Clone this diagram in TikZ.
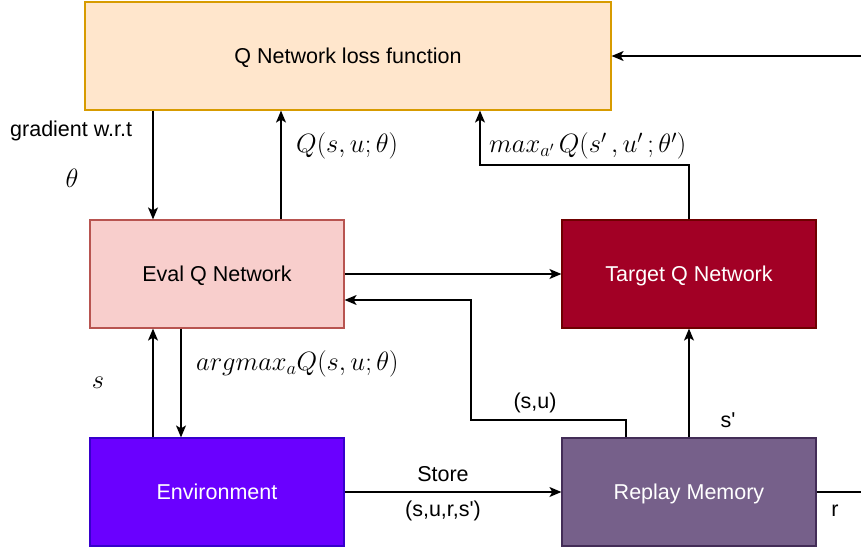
\RequirePackage{fix-cm}
\documentclass[tikz,border=0pt]{standalone}
\usepackage{fontspec}
\setmainfont{Liberation Sans}[Ligatures=TeXOff]
\usetikzlibrary{arrows.meta,calc}
\definecolor{lossfill}{HTML}{FFE6CC}\definecolor{lossdraw}{HTML}{D79B00}
\definecolor{evalfill}{HTML}{F8CECC}\definecolor{evaldraw}{HTML}{B85450}
\definecolor{tgtfill}{HTML}{A20025}\definecolor{tgtdraw}{HTML}{6F0000}
\definecolor{envfill}{HTML}{6A00FF}\definecolor{envdraw}{HTML}{3700CC}
\definecolor{repfill}{HTML}{76608A}\definecolor{repdraw}{HTML}{432D57}
\begin{document}
\begin{tikzpicture}[x=1pt,y=-1pt,
  box/.style={draw,line width=1.2pt,minimum width=254pt,minimum height=108pt,inner sep=0pt,text depth=0pt,font=\fontsize{21.5}{24}\selectfont},
  conn/.style={line width=1.3pt,-{Stealth[length=12pt,width=10pt,inset=3pt]}},
  plain/.style={line width=1.3pt},
  lbl/.style={font=\fontsize{21.5}{24}\selectfont,inner sep=0pt},
  mlbl/.style={font=\fontsize{26.5}{30}\selectfont,inner sep=0pt}]
\useasboundingbox (0,0) rectangle (861,548);
\node[box,fill=lossfill,draw=lossdraw,minimum width=526pt] (loss) at (348,56) {Q Network loss function};
\node[box,fill=evalfill,draw=evaldraw] (eval) at (217,274) {Eval Q Network};
\node[box,fill=tgtfill,draw=tgtdraw,text=white] (tgt) at (689,274) {Target Q Network};
\node[box,fill=envfill,draw=envdraw,text=white] (env) at (217,492) {Environment};
\node[box,fill=repfill,draw=repdraw,text=white] (rep) at (689,492) {Replay Memory};
\coordinate (gx) at (153,0);
\coordinate (qx) at (281,0);
\coordinate (ax) at (181,0);
\coordinate (mx) at (480,165);
\coordinate (sux) at (626,420);
\coordinate (suy) at (471,300);
\coordinate (redge) at (861,56);
\coordinate (rend) at (861,492);
% connectors
\draw[conn] (loss.south -| gx) -- (eval.north -| gx);
\draw[conn] (eval.north -| qx) -- (loss.south -| qx);
\draw[conn] (tgt.north) |- (mx) -- (loss.south -| mx);
\draw[conn] (eval.east) -- (tgt.west);
\draw[conn] (rep.north -| sux) -- (sux) -| (suy) -- (eval.east |- suy);
\draw[conn] (rep.north) -- (tgt.south);
\draw[conn] (env.north -| gx) -- (eval.south -| gx);
\draw[conn] (eval.south -| ax) -- (env.north -| ax);
\draw[conn] (env.east) -- (rep.west);
\draw[plain] (rep.east) -- (rend);
\draw[conn] (redge) -- (loss.east |- redge);
% labels
\node[lbl,anchor=west] (lg) at (10,131) {gradient w.r.t};
\node[mlbl] (lth) at (72,178) {$\theta$};
\node[mlbl,anchor=west] (lq) at (296,146) {$Q(s,u;\theta)$};
\node[mlbl,anchor=west] (lmax) at (489,146) {$max_{a'}\,Q(s'\,,u'\,;\theta')$};
\node[mlbl] (ls) at (98,383) {$s$};
\node[mlbl,anchor=west] (larg) at (196,364) {$argmax_{a}Q(s,u;\theta)$};
\node[lbl] (lsu) at (535,403) {(s,u)};
\node[lbl] (lsp) at (728,420) {s'};
\node[lbl] (lst) at (443,474) {Store};
\node[lbl] (lsurs) at (443,511) {(s,u,r,s')};
\node[lbl] (lr) at (835,511) {r};
\end{tikzpicture}
\end{document}
